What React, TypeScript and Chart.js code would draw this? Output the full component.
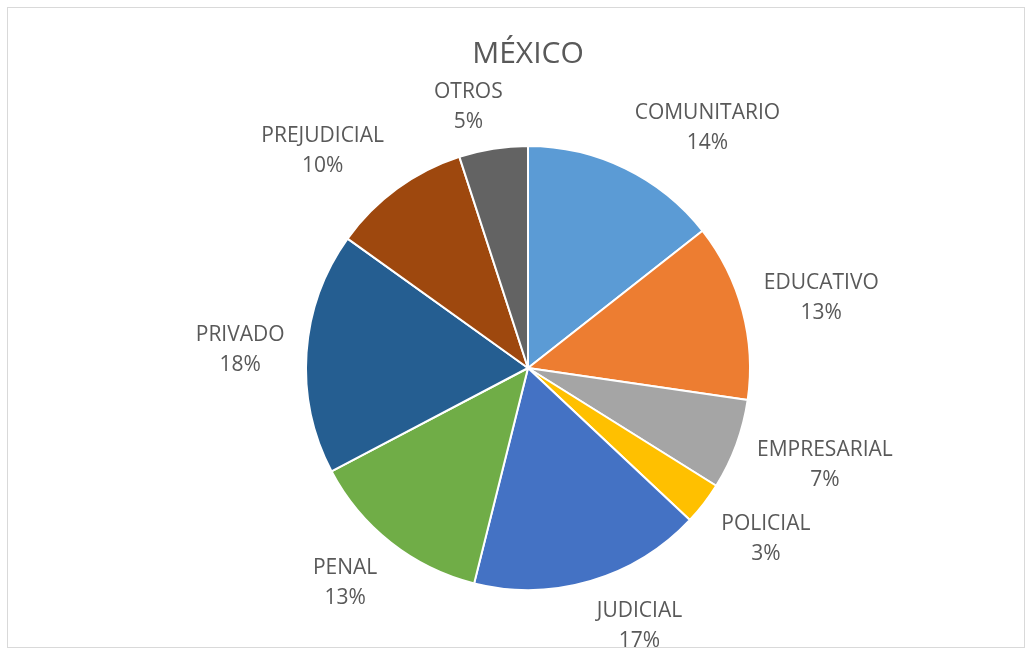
import React, { useEffect, useRef } from "react";
import { Chart, registerables } from "chart.js";

Chart.register(...registerables);

const TITLE = "MÉXICO";
const CATEGORIES = [
  "COMUNITARIO",
  "EDUCATIVO",
  "EMPRESARIAL",
  "POLICIAL",
  "JUDICIAL",
  "PENAL",
  "PRIVADO",
  "PREJUDICIAL",
  "OTROS",
];
const SHARES = [14.4, 12.9, 6.6, 3.1, 16.9, 13.4, 17.6, 10.1, 5.0];

const SLICE_COLORS = [
  "#5B9BD5",
  "#ED7D31",
  "#A5A5A5",
  "#FFC000",
  "#4472C4",
  "#70AD47",
  "#255E91",
  "#9E480E",
  "#636363",
];

const TEXT_COLOR = "#595959";
const FONT_FAMILY = '"Open Sans", "DejaVu Sans", sans-serif';

const clamp1 = (v: number) => Math.max(-1, Math.min(1, v));

const outsideLabels = {
  id: "outsideLabels",
  afterDatasetsDraw(chart: any) {
    const ctx = chart.ctx;
    const meta = chart.getDatasetMeta(0);
    const values: number[] = chart.data.datasets[0].data;
    const total = values.reduce((a, b) => a + b, 0);
    const fontSize = 21;
    const gap = 22;
    const halfH = 22;
    const lineGap = 15;
    const capHalf = (fontSize * 0.714) / 2;
    ctx.save();
    ctx.font = `${fontSize}px ${FONT_FAMILY}`;
    ctx.fillStyle = TEXT_COLOR;
    ctx.textAlign = "center";
    ctx.textBaseline = "alphabetic";
    meta.data.forEach((arc: any, i: number) => {
      const { x, y, startAngle, endAngle, outerRadius } = arc.getProps(
        ["x", "y", "startAngle", "endAngle", "outerRadius"],
        true
      );
      const mid = (startAngle + endAngle) / 2;
      const ux = Math.cos(mid);
      const uy = Math.sin(mid);
      const name = String(chart.data.labels[i]);
      const pct = Math.round((values[i] / total) * 100) + "%";
      const w = Math.max(ctx.measureText(name).width, ctx.measureText(pct).width);
      const px = x + (outerRadius + gap) * ux;
      const py = y + (outerRadius + gap) * uy;
      const cx = px + clamp1(ux * 4) * (w / 2);
      const cy = py + clamp1(uy * 1.5) * halfH;
      ctx.fillText(name, cx, cy - lineGap + capHalf);
      ctx.fillText(pct, cx, cy + lineGap + capHalf);
    });
    ctx.restore();
  },
};

export default function App() {
  const canvasRef = useRef<HTMLCanvasElement | null>(null);

  useEffect(() => {
    if (!canvasRef.current) return;
    const chart = new Chart(canvasRef.current, {
      type: "pie",
      data: {
        labels: CATEGORIES,
        datasets: [
          {
            data: SHARES,
            backgroundColor: SLICE_COLORS,
            borderColor: "#FFFFFF",
            borderWidth: 2,
            hoverOffset: 0,
            radius: 222,
          } as any,
        ],
      },
      options: {
        animation: false,
        responsive: false,
        devicePixelRatio: 1,
        events: [],
        layout: {
          padding: { top: 0, bottom: 48, left: 288, right: 268 },
        },
        plugins: {
          legend: { display: false },
          tooltip: { enabled: false },
          title: {
            display: true,
            text: TITLE,
            color: TEXT_COLOR,
            font: { family: FONT_FAMILY, size: 30, weight: "normal" as any, lineHeight: 1.2 },
            padding: { top: 36, bottom: 56 },
          },
        },
      },
      plugins: [outsideLabels],
    });
    return () => chart.destroy();
  }, []);

  return (
    <div
      style={{
        position: "absolute",
        left: 0,
        top: 0,
        width: 1036,
        height: 656,
        background: "#FFFFFF",
      }}
    >
      <div
        style={{
          position: "absolute",
          left: 7,
          top: 7,
          width: 1016,
          height: 639,
          border: "1px solid #D9D9D9",
        }}
      />
      <canvas
        ref={canvasRef}
        width={1036}
        height={656}
        style={{ position: "absolute", left: 0, top: 0, width: 1036, height: 656 }}
      />
    </div>
  );
}
